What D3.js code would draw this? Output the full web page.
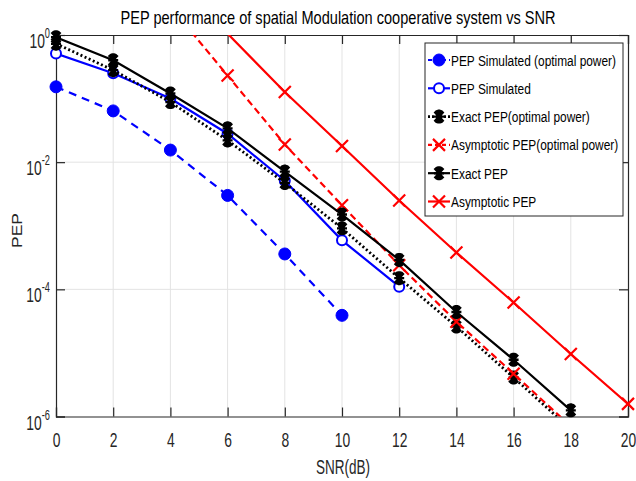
<!DOCTYPE html>
<html><head><meta charset="utf-8">
<script src="https://cdn.jsdelivr.net/npm/d3@7"></script>
<style>body{margin:0;background:#fff}svg{display:block}</style>
</head><body>
<svg id="c" width="636" height="481"></svg>
<script>
// ---- data ----
const title = "PEP performance of spatial Modulation cooperative system vs SNR";
const xTicks = [0,2,4,6,8,10,12,14,16,18,20];
const yTicks = [1,1e-2,1e-4,1e-6];
const yTickExp = ["0","-2","-4","-6"];
const legendLabels = ["PEP Simulated (optimal power)","PEP Simulated","Exact PEP(optimal power)","Asymptotic PEP(optimal power)","Exact PEP","Asymptotic PEP"];
const snrSimOpt = [0,2,4,6,8,10];
const pepSimOpt = [0.153,0.064,0.0155,0.003,3.6e-4,3.9e-5];
const snrSim = [0,2,4,6,8,10,12];
const pepSim = [0.51,0.25,0.10,0.028,0.0051,5.9e-4,1.1e-4];
const snrExactOpt = [0,2,4,6,8,10,12,14,16,18];
const pepExactOpt = [0.73,0.28,0.088,0.022,0.0047,9.1e-4,1.5e-4,2.6e-5,4.1e-6,6.3e-7];
const snrAsymOpt = [4,6,8,10,12,14,16,18];
const pepAsymOpt = [2.8,0.23,0.019,0.0021,2.4e-4,3.1e-5,4.7e-6,7e-7];
const snrExact = [0,2,4,6,8,10,12,14,16,18];
const pepExact = [0.92,0.40,0.12,0.034,0.0071,0.0015,2.9e-4,4.4e-5,7.8e-6,1.25e-6];
const snrAsym = [6,8,10,12,14,16,18,20];
const pepAsym = [1.05,0.127,0.018,0.0025,3.8e-4,6.2e-5,9.6e-6,1.58e-6];

const series = [
  {x:snrSimOpt, y:pepSimOpt, color:"#0000ff", dash:"8,6", marker:"dot"},
  {x:snrSim, y:pepSim, color:"#0000ff", dash:null, marker:"circle"},
  {x:snrExactOpt, y:pepExactOpt, color:"#000000", dash:"2,2.5", marker:"star"},
  {x:snrAsymOpt, y:pepAsymOpt, color:"#ff0000", dash:"7,4", marker:"x"},
  {x:snrExact, y:pepExact, color:"#000000", dash:null, marker:"star"},
  {x:snrAsym, y:pepAsym, color:"#ff0000", dash:null, marker:"x"}
];

const FONT = "'Liberation Sans',Arial,sans-serif";
const L=56, R=628, T=35, B=416.5;
const svg = d3.select("#c");
const x = d3.scaleLinear().domain([0,20]).range([L,R]);
const y = d3.scaleLog().domain([1e-6,1]).range([B,T]);

function squeeze(sel, factor){
  sel.each(function(){
    const n = this.getComputedTextLength();
    d3.select(this).attr("textLength", n*factor).attr("lengthAdjust","spacingAndGlyphs");
  });
}
function fitTo(sel, w){
  sel.attr("textLength", w).attr("lengthAdjust","spacingAndGlyphs");
}

svg.append("defs").append("clipPath").attr("id","clip")
  .append("rect").attr("x",L).attr("y",T).attr("width",R-L).attr("height",B-T);

// grid
const g = svg.append("g");
g.selectAll(".gx").data(xTicks.slice(1,-1)).enter().append("line")
  .attr("x1",d=>x(d)).attr("x2",d=>x(d)).attr("y1",T).attr("y2",B)
  .attr("stroke","#e3e3e3").attr("stroke-width",1);
g.selectAll(".gy").data(yTicks.slice(1,-1)).enter().append("line")
  .attr("y1",d=>y(d)).attr("y2",d=>y(d)).attr("x1",L).attr("x2",R)
  .attr("stroke","#e3e3e3").attr("stroke-width",1);

// axes (ticks inward)
const tl = 9;
const axB = svg.append("g").attr("transform",`translate(0,${B})`)
  .call(d3.axisBottom(x).tickValues(xTicks).tickSize(-tl).tickPadding(0).tickFormat(d3.format("d")));
const axT = svg.append("g").attr("transform",`translate(0,${T})`)
  .call(d3.axisTop(x).tickValues(xTicks).tickSize(-tl).tickFormat(""));
const axL = svg.append("g").attr("transform",`translate(${L},0)`)
  .call(d3.axisLeft(y).tickValues(yTicks).tickSize(-tl).tickFormat(""));
const axR = svg.append("g").attr("transform",`translate(${R},0)`)
  .call(d3.axisRight(y).tickValues(yTicks).tickSize(-tl).tickFormat(""));
[axB,axT,axL,axR].forEach(a=>{
  a.select(".domain").attr("stroke","#262626").attr("stroke-width",1.2);
  a.selectAll(".tick line").attr("stroke","#262626").attr("stroke-width",1.2);
});
const xt = axB.selectAll(".tick text").attr("font-family",FONT).attr("font-size",21).attr("fill","#262626")
  .attr("y",0).attr("dy",30);
squeeze(xt, 0.66);

// y tick labels 10^n
yTicks.forEach((v,i)=>{
  const t = svg.append("text").attr("text-anchor","end")
    .attr("transform",`translate(${L-6},${y(v)+13}) scale(0.66,1)`)
    .attr("font-family",FONT).attr("font-size",21).attr("fill","#262626");
  t.append("tspan").text("10");
  t.append("tspan").text(yTickExp[i]).attr("font-size",14).attr("dy",-10);
});

// title, labels
const tt = svg.append("text").attr("x",(L+R)/2-4).attr("y",24).attr("text-anchor","middle")
  .attr("font-family",FONT).attr("font-size",18.5).attr("fill","#000").text(title);
fitTo(tt, 435);
const xl = svg.append("text").attr("x",343).attr("y",474).attr("text-anchor","middle")
  .attr("font-family",FONT).attr("font-size",19.5).attr("fill","#262626").text("SNR(dB)");
fitTo(xl, 54);
const yl = svg.append("text").attr("transform",`translate(21.7,230.5) rotate(-90)`).attr("text-anchor","middle")
  .attr("font-family",FONT).attr("font-size",14.5).attr("fill","#262626").text("PEP");
fitTo(yl, 35);

// markers
function drawMarker(sel, type, color){
  if(type==="dot") sel.append("circle").attr("r",6).attr("fill",color).attr("stroke",color).attr("stroke-width",1);
  else if(type==="circle") sel.append("circle").attr("r",5).attr("fill","#fff").attr("stroke",color).attr("stroke-width",2);
  else if(type==="x") sel.append("path").attr("d","M-6,-6L6,6M-6,6L6,-6").attr("stroke",color).attr("stroke-width",2.2).attr("fill","none");
  else if(type==="star") sel.append("path").attr("d","M-5,0H5M0,-7V7M-4.5,-5L4.5,5M-4.5,5L4.5,-5M-2.5,-6.5L2.5,6.5M2.5,-6.5L-2.5,6.5").attr("stroke",color).attr("stroke-width",2.4).attr("fill","none");
}

const line = d3.line().x(d=>x(d[0])).y(d=>y(d[1]));
const plot = svg.append("g");
series.forEach(s=>{
  const pts = s.x.map((xv,i)=>[xv,s.y[i]]);
  plot.append("path").attr("clip-path","url(#clip)").attr("d",line(pts))
    .attr("fill","none").attr("stroke",s.color).attr("stroke-width",s.marker==="star"&&s.dash?2.8:2.2)
    .attr("stroke-dasharray",s.dash);
  pts.filter(p=>p[1]<=1.0001 && p[1]>=1e-6).forEach(p=>{
    const m = plot.append("g").attr("transform",`translate(${x(p[0])},${y(p[1])})`);
    drawMarker(m, s.marker, s.color);
  });
});

// legend
const lx=425, ly=43, lw=198, lh=173, rowH=28.3, row0=60;
const lg = svg.append("g");
lg.append("rect").attr("x",lx).attr("y",ly).attr("width",lw).attr("height",lh)
  .attr("fill","#fff").attr("stroke","#262626").attr("stroke-width",1);
const legTexts = [];
series.forEach((s,i)=>{
  const cy = row0 + i*rowH;
  lg.append("line").attr("x1",428).attr("x2",450).attr("y1",cy).attr("y2",cy)
    .attr("stroke",s.color).attr("stroke-width",s.marker==="star"&&s.dash?2.8:2.2).attr("stroke-dasharray",s.dash?(s.marker==="star"?"2,2":"4,3"):null);
  const m = lg.append("g").attr("transform",`translate(439,${cy})`);
  drawMarker(m, s.marker, s.color);
  legTexts.push(lg.append("text").attr("x",451).attr("y",cy+5.5).attr("font-family",FONT).attr("font-size",15.5)
    .attr("fill","#000").text(legendLabels[i]));
});
const f = 165 / legTexts[0].node().getComputedTextLength();
legTexts.forEach(t=>squeeze(t, f));
</script>
</body></html>
